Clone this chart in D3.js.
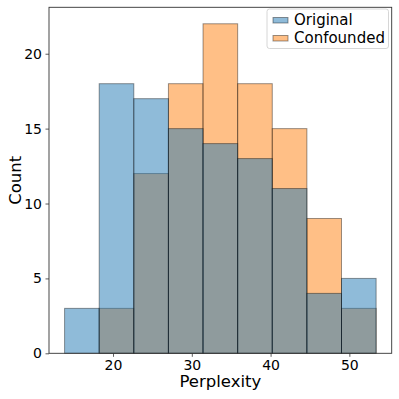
<!DOCTYPE html>
<html><head><meta charset="utf-8">
<script src="https://cdn.jsdelivr.net/npm/d3@7"></script>
<style>body{margin:0;background:#fff}svg{display:block}text{font-family:"DejaVu Sans",sans-serif;fill:#000}</style>
</head><body>
<script>
const binStart = 13.85;
const binWidth = 4.394;
const original = [3, 18, 17, 15, 14, 13, 11, 4, 5];
const confounded = [0, 3, 12, 18, 22, 18, 15, 9, 3];
const xTicks = [20, 30, 40, 50];
const yTicks = [0, 5, 10, 15, 20];
const seriesNames = ["Original", "Confounded"];
const colors = ["#1f77b4", "#ff7f0e"];

const W = 399, H = 399;
const m = {left: 49, right: 391.7, top: 7.3, bottom: 353.3};
const svg = d3.select("body").append("svg").attr("width", W).attr("height", H);

const xMin = binStart, xMax = binStart + binWidth * original.length;
const pad = (xMax - xMin) * 0.05;
const x = d3.scaleLinear().domain([xMin - pad, xMax + pad]).range([m.left, m.right]);
const yMax = d3.max(original.concat(confounded)) * 1.05;
const y = d3.scaleLinear().domain([0, yMax]).range([m.bottom, m.top]);

function drawBars(vals, color) {
  const data = vals.map((v, i) => ({v, x0: binStart + i * binWidth, x1: binStart + (i + 1) * binWidth}))
    .filter(d => d.v > 0);
  svg.append("g").selectAll("rect").data(data).join("rect")
    .attr("x", d => x(d.x0))
    .attr("width", d => x(d.x1) - x(d.x0))
    .attr("y", d => y(d.v))
    .attr("height", d => y(0) - y(d.v))
    .attr("fill", color).attr("fill-opacity", 0.5)
    .attr("stroke", "#000").attr("stroke-opacity", 0.4).attr("stroke-width", 1);
}
drawBars(confounded, colors[1]);
drawBars(original, colors[0]);

// axes
const xAxis = d3.axisBottom(x).tickValues(xTicks).tickSize(3.5).tickPadding(3.5);
const gx = svg.append("g").attr("transform", `translate(0,${m.bottom})`).call(xAxis);
gx.selectAll("text").attr("font-size", 14).attr("font-family", "DejaVu Sans");
const yAxis = d3.axisLeft(y).tickValues(yTicks).tickSize(3.5).tickPadding(3.5);
const gy = svg.append("g").attr("transform", `translate(${m.left},0)`).call(yAxis);
gy.selectAll("text").attr("font-size", 14).attr("font-family", "DejaVu Sans");
[gx, gy].forEach(g => { g.select(".domain").remove(); g.selectAll("line").attr("stroke", "#333").attr("stroke-width", 0.8); });

svg.append("rect").attr("x", m.left).attr("y", m.top)
  .attr("width", m.right - m.left).attr("height", m.bottom - m.top)
  .attr("fill", "none").attr("stroke", "#333").attr("stroke-width", 0.9);

svg.append("text").attr("x", (m.left + m.right) / 2).attr("y", 387)
  .attr("text-anchor", "middle").attr("font-size", 16.5).text("Perplexity");
svg.append("text").attr("transform", `translate(20.5,${(m.top + m.bottom) / 2}) rotate(-90)`)
  .attr("text-anchor", "middle").attr("font-size", 16.5).text("Count");

// legend
const lg = svg.append("g");
lg.append("rect").attr("x", 267).attr("y", 9).attr("width", 121.5).attr("height", 39.5)
  .attr("rx", 2.5).attr("fill", "#fff").attr("fill-opacity", 0.8)
  .attr("stroke", "#ccc").attr("stroke-width", 0.8);
seriesNames.forEach((name, i) => {
  const cy = 20 + i * 18;
  lg.append("rect").attr("x", 273).attr("y", cy - 2.5).attr("width", 15).attr("height", 5.5)
    .attr("fill", colors[i]).attr("fill-opacity", 0.5)
    .attr("stroke", "#000").attr("stroke-opacity", 0.4).attr("stroke-width", 1);
  lg.append("text").attr("x", 294).attr("y", cy + 5.3).attr("font-size", 15).text(name);
});
</script>
</body></html>
